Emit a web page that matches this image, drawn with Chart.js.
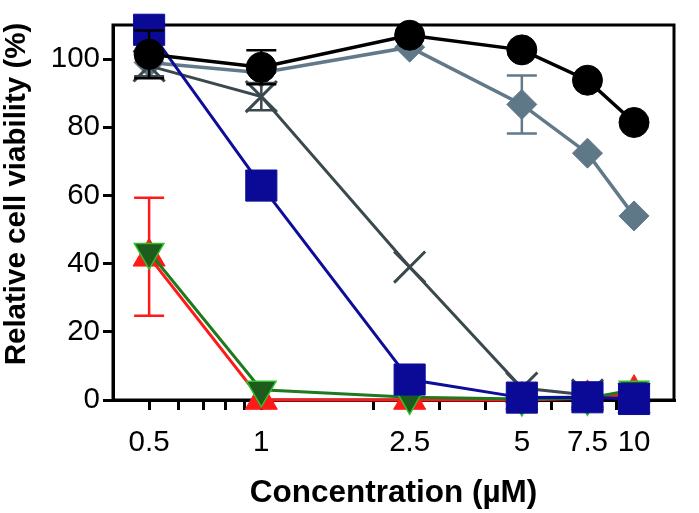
<!DOCTYPE html>
<html>
<head>
<meta charset="utf-8">
<script src="https://cdn.jsdelivr.net/npm/chart.js@4"></script>
<style>
  html, body { margin: 0; padding: 0; background: #fff; }
  canvas { display: block; }
</style>
</head>
<body>
<canvas id="viability" width="699" height="513"></canvas>
<script>
// concentrations (uM) and mean viability (%) per compound
const conc = [0.5, 1, 2.5, 5, 7.5, 10];

const circles  = [101.4, 97.6, 107, 102.7, 93.8, 81.4];
const circlesErr = [7, 5, 0, 0, 0, 0];
const diamonds = [99, 96, 103.5, 86.7, 72.4, 54];
const diamondsErr = [0, 0, 0, 8.5, 0, 0];
const crosses  = [98, 89, 39, 3.5, 1.5, 0.5];
const crossesErr = [3, 4, 0, 0, 0, 0];
const squares  = [108.6, 62.9, 6, 0.7, 0.8, 0.3];
const upTri    = [42, 0, 0, 0, 0.5, 2];
const upTriErr = [17.3, 0, 0, 0, 0, 0];
const downTri  = [43.4, 3, 0.8, 0.3, 0.5, 3];

const xTicks = [0.5, 0.6, 0.7, 0.8, 0.9, 1, 2, 2.5, 3, 4, 5, 6, 7, 7.5, 8, 9, 10];
const xLabels = [0.5, 1, 2.5, 5, 7.5, 10];
const yTicks = [0, 20, 40, 60, 80, 100];

const FONT = "'Liberation Sans', Arial, sans-serif";

const pts = vals => conc.map((c, i) => ({ x: c, y: vals[i] }));

// draws the box around the plot (under the markers)
const frame = {
  id: 'frame',
  beforeDatasetsDraw(chart) {
    const { ctx, chartArea: a } = chart;
    ctx.save();
    ctx.strokeStyle = '#000';
    ctx.lineWidth = 3;
    ctx.strokeRect(a.left, a.top, a.right - a.left, a.bottom - a.top);
    ctx.restore();
  }
};

// y title sits a bit higher than the plot centre in the original
const yTitle = {
  id: 'yTitle',
  afterDraw(chart) {
    const { ctx } = chart;
    ctx.save();
    ctx.translate(17, 194);
    ctx.rotate(-Math.PI / 2);
    ctx.font = `bold 29.5px ${FONT}`;
    ctx.fillStyle = '#000';
    ctx.textAlign = 'center';
    ctx.textBaseline = 'middle';
    ctx.fillText('Relative cell viability (%)', 0, 0);
    ctx.restore();
  }
};

// vertical error bars with caps, drawn just before each dataset
const errorBars = {
  id: 'errorBars',
  beforeDatasetDraw(chart, args) {
    const ds = chart.data.datasets[args.index];
    if (!ds.err) return;
    const { ctx, scales: { x, y } } = chart;
    ctx.save();
    ctx.strokeStyle = ds.borderColor;
    ctx.lineWidth = 2.5;
    ds.data.forEach((p, i) => {
      const e = ds.err[i];
      if (!e) return;
      const px = x.getPixelForValue(p.x);
      const top = y.getPixelForValue(p.y + e);
      const bot = y.getPixelForValue(p.y - e);
      ctx.beginPath();
      ctx.moveTo(px, top); ctx.lineTo(px, bot);
      ctx.moveTo(px - 15, top); ctx.lineTo(px + 15, top);
      ctx.moveTo(px - 15, bot); ctx.lineTo(px + 15, bot);
      ctx.stroke();
    });
    ctx.restore();
  }
};

// first dataset is drawn on top
const datasets = [
  {
    data: pts(circles), err: circlesErr,
    borderColor: '#000', backgroundColor: '#000',
    pointStyle: 'circle', pointRadius: 15, borderWidth: 3.5
  },
  {
    data: pts(squares),
    borderColor: '#0d0d9a', backgroundColor: '#0a0a96',
    pointStyle: 'rect', pointRadius: 22
  },
  {
    data: pts(downTri),
    borderColor: '#1f7a1f', backgroundColor: '#1d5c1d',
    pointBorderColor: '#2fc02f', pointBorderWidth: 1.5,
    pointStyle: 'triangle', pointRotation: 180, pointRadius: 17
  },
  {
    data: pts(upTri), err: upTriErr,
    borderColor: '#ff1a1a', backgroundColor: '#ff1a1a',
    pointStyle: 'triangle', pointRadius: 18.5
  },
  {
    data: pts(crosses), err: crossesErr,
    borderColor: '#3b484d', backgroundColor: '#3b484d',
    pointStyle: 'crossRot', pointRadius: 22, pointBorderWidth: 3
  },
  {
    data: pts(diamonds), err: diamondsErr,
    borderColor: '#62798a', backgroundColor: '#5f7887',
    pointStyle: 'rectRot', pointRadius: 15, borderWidth: 3.5
  }
].map(d => Object.assign({ borderWidth: 3, clip: false, pointBorderWidth: d.pointBorderWidth || 1 }, d));

new Chart(document.getElementById('viability'), {
  type: 'line',
  data: { datasets },
  options: {
    responsive: false,
    animation: false,
    devicePixelRatio: 1,
    layout: { padding: { top: 14, right: 9, left: 0, bottom: 0 } },
    plugins: {
      legend: { display: false },
      tooltip: { enabled: false }
    },
    scales: {
      x: {
        type: 'logarithmic',
        min: 0.4,
        max: 12.8,
        afterBuildTicks: s => { s.ticks = xTicks.map(v => ({ value: v })); },
        afterFit: s => { s.height = 113; },
        ticks: {
          autoSkip: false,
          maxRotation: 0,
          color: '#000',
          padding: 15,
          font: { family: FONT, size: 29.5 },
          callback: v => xLabels.includes(v) ? String(v) : ''
        },
        grid: { drawOnChartArea: false, tickLength: 10, lineWidth: 3, color: '#000' },
        border: { display: true, width: 3, color: '#000' },
        title: {
          display: true,
          text: 'Concentration (\u00b5M)',
          color: '#000',
          font: { family: FONT, size: 31.5, weight: 'bold' },
          padding: { top: 0, bottom: 1 }
        }
      },
      y: {
        min: 0,
        max: 110,
        afterBuildTicks: s => { s.ticks = yTicks.map(v => ({ value: v })); },
        afterFit: s => { s.width = 113; },
        ticks: {
          color: '#000',
          padding: 3,
          font: { family: FONT, size: 29.5 }
        },
        grid: { drawOnChartArea: false, tickLength: 10, lineWidth: 3, color: '#000' },
        border: { display: true, width: 3, color: '#000' }
      }
    }
  },
  plugins: [frame, errorBars, yTitle]
});
</script>
</body>
</html>
